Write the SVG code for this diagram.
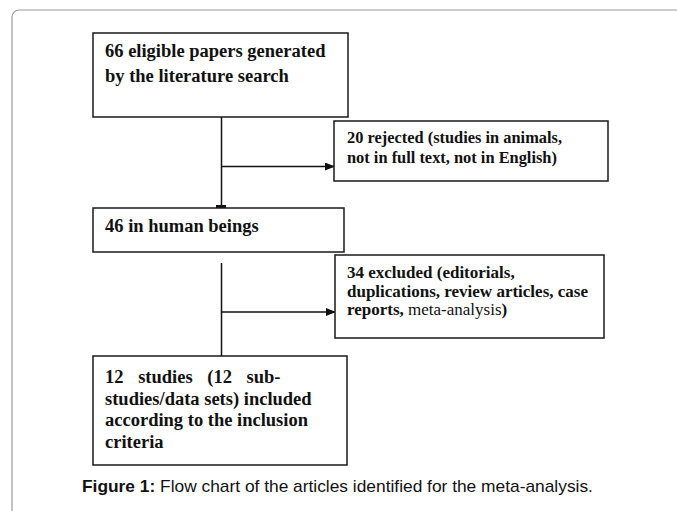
<svg xmlns="http://www.w3.org/2000/svg" width="677" height="511" viewBox="0 0 677 511">
<style>
.box{fill:#fff;stroke:#1a1a1a;stroke-width:1.5}
.t{font-family:"Liberation Serif","Times New Roman",serif;font-weight:bold;fill:#111}
.r{font-weight:normal}
.c{stroke:#111;stroke-width:1.5;fill:none}
.cap{font-family:"Liberation Sans",Arial,sans-serif;font-size:17.35px;fill:#111}
</style>
<defs>
<marker id="ah" markerWidth="10" markerHeight="8" refX="9" refY="4" orient="auto" markerUnits="userSpaceOnUse">
<path d="M0,0 L10,4 L0,8 Z" fill="#111"/>
</marker>
</defs>
<rect x="12" y="10" width="720" height="560" rx="7" ry="7" fill="#fff" stroke="#9a9a9a" stroke-width="1.2"/>
<g id="connectors">
<line class="c" x1="221.5" y1="109" x2="221.5" y2="207"/>
<rect x="216" y="205" width="10" height="3" fill="#111"/>
<line class="c" x1="221.5" y1="166.5" x2="334" y2="166.5" marker-end="url(#ah)"/>
<line class="c" x1="221.5" y1="263" x2="221.5" y2="356"/>
<line class="c" x1="221.5" y1="312" x2="335" y2="312" marker-end="url(#ah)"/>
</g>
<g id="n1">
<rect class="box" x="93" y="33" width="255" height="84"/>
<text class="t" font-size="18.5" x="105" y="57">66 eligible papers generated</text>
<text class="t" font-size="18.5" x="105" y="82">by the literature search</text>
</g>
<g id="n2">
<rect class="box" x="334" y="121" width="274" height="60"/>
<text class="t" font-size="16.4" x="347" y="143">20 rejected (studies in animals,</text>
<text class="t" font-size="16.4" x="347" y="163">not in full text, not in English)</text>
</g>
<g id="n3">
<rect class="box" x="93" y="208" width="251" height="44"/>
<text class="t" font-size="18.5" x="105" y="232">46 in human beings</text>
</g>
<g id="n4">
<rect class="box" x="335" y="255" width="269" height="83"/>
<text class="t" font-size="17" x="347" y="278">34 excluded (editorials,</text>
<text class="t" font-size="17" x="347" y="296.5">duplications, review articles, case</text>
<text class="t" font-size="17" x="347" y="315">reports,<tspan class="r"> meta-analysis</tspan>)</text>
</g>
<g id="n5">
<rect class="box" x="93" y="356" width="254" height="109"/>
<text class="t" font-size="18.5" x="105" y="383" word-spacing="10">12 studies (12 sub-</text>
<text class="t" font-size="18.5" x="105" y="405">studies/data sets) included</text>
<text class="t" font-size="18.5" x="105" y="426">according to the inclusion</text>
<text class="t" font-size="18.5" x="105" y="448">criteria</text>
</g>
<text class="cap" x="82" y="492"><tspan font-weight="bold">Figure 1:</tspan> Flow chart of the articles identified for the meta-analysis.</text>
</svg>
